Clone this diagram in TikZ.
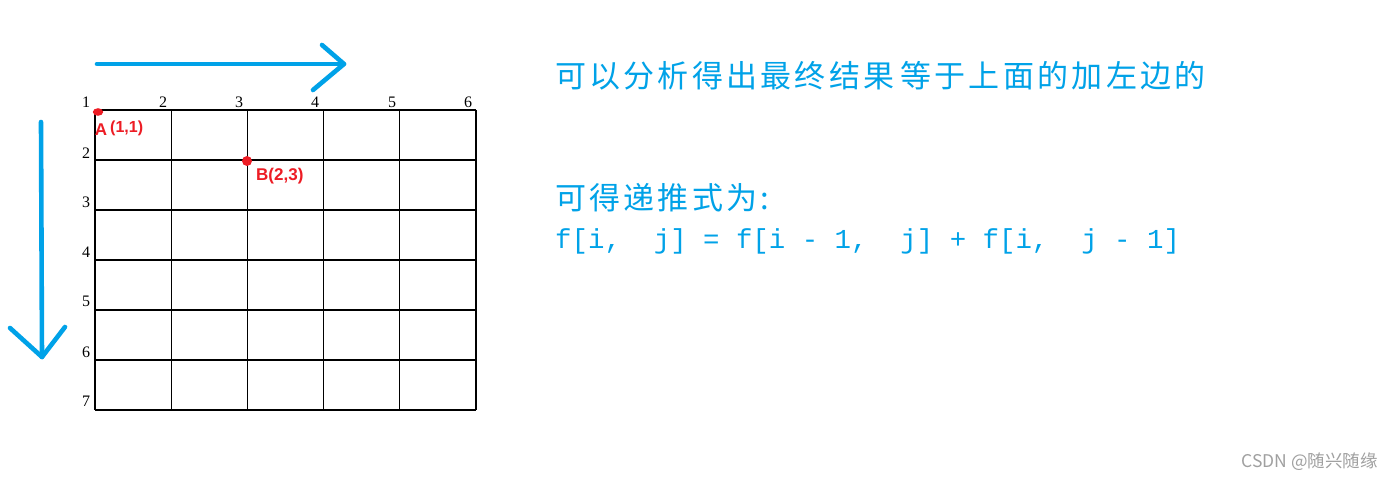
\documentclass[tikz,border=0pt]{standalone}
\usepackage{fontspec}
\newfontfamily\cjk{Noto Sans CJK SC}
\newfontfamily\cjksp[LetterSpace=10.5]{Noto Sans CJK SC}
\newfontfamily\monof{Liberation Mono}
\newfontfamily\labf{Liberation Serif}
\newfontfamily\redf{Liberation Sans}
\definecolor{paintblue}{HTML}{00A2E8}
\definecolor{paintred}{HTML}{ED1C24}
\definecolor{wmgray}{HTML}{A0A0A0}
\tikzset{
  gridline/.style={draw=black, line width=1.3pt},
  bluearrow/.style={draw=paintblue, line width=4.6pt, line cap=round, line join=round},
  numlab/.style={inner sep=0pt, font=\labf\fontsize{16}{16}\selectfont},
  redlab/.style={inner sep=0pt, text=paintred, font=\redf\bfseries\fontsize{16}{16}\selectfont},
  bluetext/.style={inner sep=0pt, anchor=west, text=paintblue},
}
\begin{document}
\begin{tikzpicture}[x=1pt,y=-1pt]
\useasboundingbox (0,0) rectangle (1393,478);
\fill[white] (0,0) rectangle (1393,478);

% grid
\foreach \x in {95,171.2,247.4,323.6,399.8,476} \draw[gridline] (\x,110) -- (\x,410);
\foreach \y in {110,160,210,260,310,360,410} \draw[gridline] (95,\y) -- (476,\y);

% column labels
\foreach \x [count=\i] in {86,163,239,315,392,468}
  \node[numlab] (top\i) at (\x,102) {\i};
% row labels
\foreach \y [count=\i from 2] in {153,202,252,301,352,401}
  \node[numlab] (left\i) at (86,\y) {\i};

% red points
\fill[paintred] (98,112) ellipse [x radius=5.2pt, y radius=3.8pt];
\fill[paintred] (247,161) circle [radius=5pt];
\node[redlab, font=\redf\bfseries\fontsize{17}{17}\selectfont] (labA) at (101,130) {A};
\node[redlab, anchor=west] (labA2) at (110,128) {(1,1)};
\node[redlab, anchor=west, font=\redf\bfseries\fontsize{17}{17}\selectfont] (labB) at (256,176) {B(2,3)};

% blue arrows
\coordinate (h0) at (97,64);
\coordinate (h1) at (344,64);
\coordinate (hu) at (322,45);
\coordinate (hl) at (313,90);
\draw[bluearrow] (h0) -- (h1);
\draw[bluearrow] (hu) -- (h1) -- (hl);
\coordinate (v0) at (41,122);
\coordinate (v1) at (42,357);
\coordinate (vl) at (10,328);
\coordinate (vr) at (65,327);
\draw[bluearrow] (v0) -- (v1);
\draw[bluearrow] (vl) -- (v1) -- (vr);

% texts
\node[bluetext, font=\cjksp\fontsize{31}{31}\selectfont] (t1) at (555,76) {可以分析得出最终结果\hspace{6pt}等于上面的加左边的};
\node[bluetext, font=\cjksp\fontsize{31}{31}\selectfont] (t2) at (555,198) {可得递推式为:};
\node[bluetext, font=\monof\fontsize{27.4}{27.4}\selectfont] (t3) at (555,241) {f[i,\ \ j]\ =\ f[i\ -\ 1,\ \ j]\ +\ f[i,\ \ j\ -\ 1]};

% watermark
\node[inner sep=0pt, anchor=east, text=wmgray, font=\cjk\fontsize{17.5}{17.5}\selectfont] (wm) at (1378,462) {CSDN @随兴随缘};
\end{tikzpicture}
\end{document}
